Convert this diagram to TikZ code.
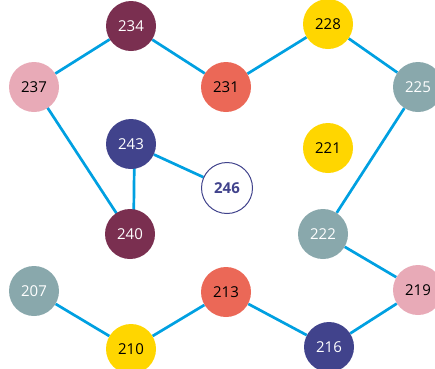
\documentclass[tikz,border=0pt]{standalone}
\usepackage{fontspec}
\setmainfont{Open Sans}
\usetikzlibrary{backgrounds}
\definecolor{edgec}{RGB}{0,160,225}
\definecolor{maroon}{RGB}{122,47,80}
\definecolor{pinkc}{RGB}{232,170,183}
\definecolor{navy}{RGB}{65,67,140}
\definecolor{coral}{RGB}{235,104,87}
\definecolor{yellowc}{RGB}{255,214,0}
\definecolor{tealc}{RGB}{137,168,172}
\tikzset{
  vtx/.style={circle, minimum size=50pt, inner sep=0pt, font=\fontsize{15}{17}\selectfont},
  vmaroon/.style={vtx, fill=maroon, text=white},
  vpink/.style={vtx, fill=pinkc, text=black},
  vnavy/.style={vtx, fill=navy, text=white},
  vcoral/.style={vtx, fill=coral, text=black},
  vyellow/.style={vtx, fill=yellowc, text=black},
  vteal/.style={vtx, fill=tealc, text=white},
  vwhite/.style={vtx, fill=white, draw=navy, line width=1pt, text=navy, font=\fontsize{15}{17}\selectfont\bfseries, minimum size=51pt},
  link/.style={draw=edgec, line width=2.7pt}
}
\begin{document}
\begin{tikzpicture}[x=1pt,y=-1pt]
\useasboundingbox (0,0) rectangle (435,368);
\node[vmaroon] (n234) at (131,26) {234};
\node[vyellow] (n228) at (328,24) {228};
\node[vpink] (n237) at (34,87) {237};
\node[vcoral] (n231) at (226,87) {231};
\node[vteal] (n225) at (418,87) {225};
\node[vnavy] (n243) at (131,144) {243};
\node[vyellow] (n221) at (328,148) {221};
\node[vwhite] (n246) at (227,188) {246};
\node[vmaroon] (n240) at (130,234) {240};
\node[vteal] (n222) at (323,234) {222};
\node[vteal] (n207) at (34,291) {207};
\node[vcoral] (n213) at (226,292) {213};
\node[vpink] (n219) at (418,290) {219};
\node[vyellow] (n210) at (131,349) {210};
\node[vnavy] (n216) at (329,347) {216};
\begin{pgfonlayer}{background}
\draw[link] (n237) -- (n234);
\draw[link] (n234) -- (n231);
\draw[link] (n231) -- (n228);
\draw[link] (n228) -- (n225);
\draw[link] (n225) -- (n222);
\draw[link] (n222) -- (n219);
\draw[link] (n219) -- (n216);
\draw[link] (n216) -- (n213);
\draw[link] (n213) -- (n210);
\draw[link] (n210) -- (n207);
\draw[link] (n237.center) -- (n240.center);
\draw[link] ([xshift=3.5pt]n243.center) -- ([xshift=3.5pt]n240.center);
\draw[link] (n243) -- (n246);
\end{pgfonlayer}
\end{tikzpicture}
\end{document}
